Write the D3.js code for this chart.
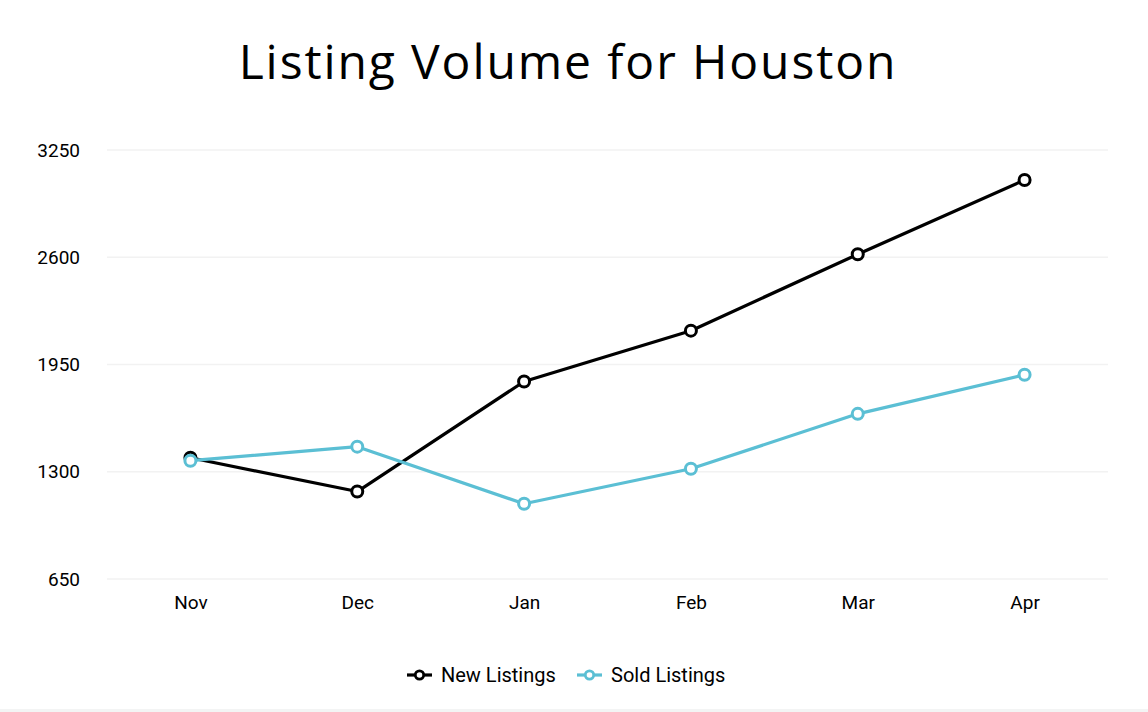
<!DOCTYPE html>
<html>
<head>
<meta charset="utf-8">
<script src="https://cdn.jsdelivr.net/npm/d3@7"></script>
<style>
  body { margin: 0; background: #fff; }
  svg { display: block; }
</style>
</head>
<body>
<svg id="chart" width="1148" height="712"></svg>
<script>
const months = ['Nov', 'Dec', 'Jan', 'Feb', 'Mar', 'Apr'];
const newListings = [1385, 1180, 1847, 2155, 2618, 3068];
const soldListings = [1367, 1452, 1106, 1318, 1651, 1888];
const yTicks = [650, 1300, 1950, 2600, 3250];

const series = [
  { name: 'New Listings', values: newListings, color: '#000000' },
  { name: 'Sold Listings', values: soldListings, color: '#5bbfd4' },
];

const dim = { width: 1148, height: 712, left: 107, right: 1108, top: 150, bottom: 579 };

const svg = d3.select('#chart');

/// title
svg.append('text')
  .attr('x', 568)
  .attr('y', 79)
  .attr('text-anchor', 'middle')
  .style('font-family', '"Open Sans", sans-serif')
  .style('font-size', '48px')
  .style('letter-spacing', '1.9px')
  .text('Listing Volume for Houston');

const x = d3.scalePoint().domain(months).range([dim.left, dim.right]).padding(0.5);
const y = d3.scaleLinear().domain([650, 3250]).range([dim.bottom, dim.top]);

/// grid lines
svg.append('g')
  .selectAll('line')
  .data(yTicks)
  .enter().append('line')
  .attr('x1', dim.left)
  .attr('x2', dim.right)
  .attr('y1', (d) => y(d))
  .attr('y2', (d) => y(d))
  .attr('stroke', '#f2f2f2')
  .attr('stroke-width', 1.5);

/// y axis
const yAxis = svg.append('g')
  .attr('transform', 'translate(80,0)')
  .call(d3.axisLeft(y).tickValues(yTicks).tickFormat(d3.format('d')).tickSize(0).tickPadding(0));
yAxis.select('.domain').remove();
yAxis.selectAll('text')
  .style('font-family', 'Roboto, sans-serif')
  .style('font-size', '19px')
  .attr('fill', '#000');

/// x axis
const xAxis = svg.append('g')
  .attr('transform', `translate(0,${dim.bottom + 16})`)
  .call(d3.axisBottom(x).tickSize(0).tickPadding(0));
xAxis.select('.domain').remove();
xAxis.selectAll('text')
  .style('font-family', 'Roboto, sans-serif')
  .style('font-size', '19px')
  .attr('fill', '#000');

const line = d3.line()
  .x((_, i) => x(months[i]))
  .y((d) => y(d));

/// lines + markers
series.forEach((s) => {
  svg.append('path')
    .datum(s.values)
    .attr('d', line)
    .attr('fill', 'none')
    .attr('stroke', s.color)
    .attr('stroke-width', 3.2)
    .attr('stroke-linejoin', 'round');

  svg.append('g')
    .selectAll('circle')
    .data(s.values)
    .enter().append('circle')
    .attr('cx', (_, i) => x(months[i]))
    .attr('cy', (d) => y(d))
    .attr('r', 5.5)
    .attr('fill', '#fff')
    .attr('stroke', s.color)
    .attr('stroke-width', 3);
});

/// legend
const legendX = [407, 577];
const legend = svg.append('g')
  .selectAll('g')
  .data(series)
  .enter().append('g')
  .attr('transform', (_, i) => `translate(${legendX[i]},675)`);

legend.append('line')
  .attr('x1', 0).attr('x2', 25)
  .attr('stroke', (d) => d.color)
  .attr('stroke-width', 3.2);
legend.append('circle')
  .attr('cx', 12.5)
  .attr('r', 4.2)
  .attr('fill', '#fff')
  .attr('stroke', (d) => d.color)
  .attr('stroke-width', 2.8);
legend.append('text')
  .attr('x', 34)
  .attr('dy', '0.35em')
  .style('font-family', 'Roboto, sans-serif')
  .style('font-size', '20px')
  .text((d) => d.name);

/// bottom strip
svg.append('rect')
  .attr('x', 0)
  .attr('y', 709)
  .attr('width', dim.width)
  .attr('height', 3)
  .attr('fill', '#f3f4f4');
</script>
</body>
</html>
